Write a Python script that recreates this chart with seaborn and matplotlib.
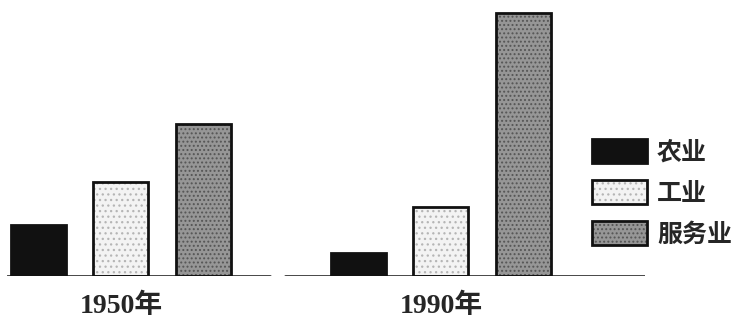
import numpy as np
import pandas as pd
import matplotlib; matplotlib.use("Agg")
import matplotlib.pyplot as plt
import matplotlib.patches as mpatches
import seaborn as sns

# ── Data (relative bar heights) ───────────────────────────────────────────
YEARS    = ["1950年", "1990年"]
SECTORS  = ["农业", "工业", "服务业"]
VAL_1950 = [5.1, 9.4, 15.2]
VAL_1990 = [2.3, 6.9, 26.3]

FACE  = {"农业": "#111111", "工业": "#f3f3f3", "服务业": "#969696"}
HATCH = {"农业": "", "工业": "...", "服务业": "...."}
HCOL  = {"农业": "#111111", "工业": "#b5b5b5", "服务业": "#555555"}

df = pd.DataFrame({
    "年份": np.repeat(YEARS, len(SECTORS)),
    "产业": SECTORS * len(YEARS),
    "比重": VAL_1950 + VAL_1990,
})

sns.set_style("white")
plt.rcParams["font.family"] = ["Liberation Serif", "Noto Sans CJK SC", "DejaVu Sans"]
plt.rcParams["hatch.linewidth"] = 0.9

fig = plt.figure(figsize=(7.47, 3.19), dpi=100)
ax = fig.add_axes([7 / 747, 43 / 319, 638 / 747, 266 / 319])

sns.barplot(data=df, x="年份", y="比重", hue="产业", hue_order=SECTORS,
            palette=FACE, saturation=1, width=0.77, gap=0.33,
            legend=False, ax=ax)

# hatch texture in grey, black outline drawn on top
for name, cont in zip(SECTORS, ax.containers):
    for p in cont:
        p.set_hatch(HATCH[name])
        p.set_edgecolor(HCOL[name])
        p.set_linewidth(0)
        ax.add_patch(mpatches.Rectangle(p.get_xy(), p.get_width(), p.get_height(),
                                        fill=False, edgecolor="#111111", lw=2.0,
                                        zorder=p.get_zorder() + 0.1))

ax.set_xlim(-0.356, 1.6375)
ax.set_ylim(0, 26.6)
for s in ax.spines.values():
    s.set_visible(False)
ax.set_yticks([])
ax.set_xlabel(""); ax.set_ylabel("")
ax.tick_params(axis="x", length=0, pad=13, labelsize=20)
for t in ax.get_xticklabels():
    t.set_fontweight("bold")

# baseline (slightly broken, as in the print)
ax.axhline(0, xmin=0, xmax=0.412, color="#111111", lw=1.8, zorder=5)
ax.axhline(0, xmin=0.436, xmax=1, color="#111111", lw=1.8, zorder=5)

handles = []
for name in SECTORS:
    tex = mpatches.Patch(facecolor=FACE[name], edgecolor=HCOL[name],
                         hatch=HATCH[name], lw=0)
    box = mpatches.Patch(facecolor="none", edgecolor="#111111", lw=2.0)
    handles.append((tex, box))

fig.legend(handles=handles, labels=SECTORS, loc="center left",
           bbox_to_anchor=(592 / 747, 1 - 193 / 319), bbox_transform=fig.transFigure,
           frameon=False, borderpad=0, borderaxespad=0,
           handlelength=2.2, handleheight=1.08, handletextpad=0.4,
           labelspacing=0.62,
           prop={"family": ["Noto Sans CJK SC"], "size": 18, "weight": "bold"})

plt.savefig("out.png", dpi=100)
plt.close()
